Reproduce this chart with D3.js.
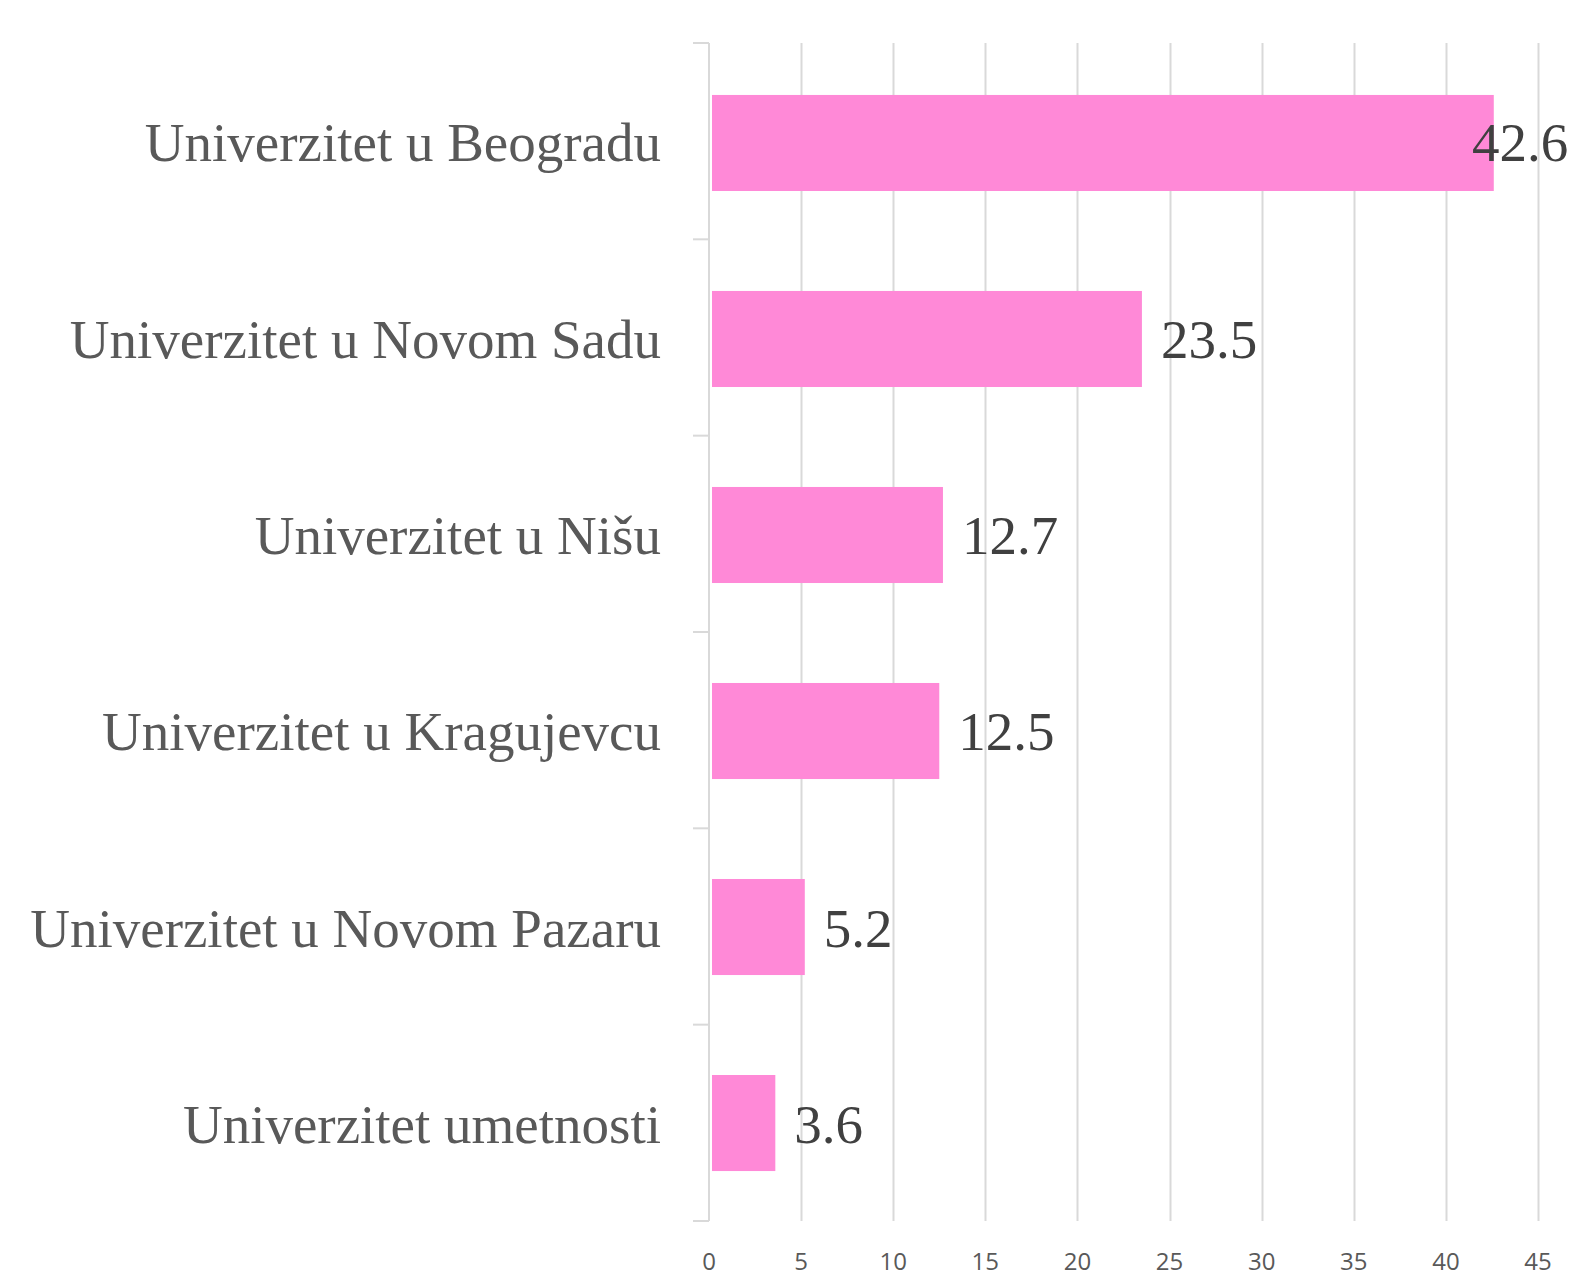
<!DOCTYPE html>
<html><head><meta charset="utf-8">
<script src="https://cdn.jsdelivr.net/npm/d3@7"></script>
<style>body{margin:0;background:#fff}svg{display:block}</style>
</head><body>
<script>
const categories = ["Univerzitet u Beogradu","Univerzitet u Novom Sadu","Univerzitet u Nišu","Univerzitet u Kragujevcu","Univerzitet u Novom Pazaru","Univerzitet umetnosti"];
const values = [42.6, 23.5, 12.7, 12.5, 5.2, 3.6];
const xTicks = [0,5,10,15,20,25,30,35,40,45];

const W = 1571, H = 1280;
const m = {left: 709, right: 33, top: 43, bottom: 59};
const svg = d3.select("body").append("svg").attr("width", W).attr("height", H);

const x = d3.scaleLinear().domain([0,45]).range([m.left, W - m.right]);
const y = d3.scaleBand().domain(categories).range([m.top, H - m.bottom]).paddingInner(0.51).paddingOuter(0.26);
const band = d3.scaleBand().domain(categories).range([m.top, H - m.bottom]);

// gridlines
svg.append("g").selectAll("line").data(xTicks.filter(d => d > 0)).join("line")
  .attr("x1", d => Math.round(x(d)) + 0.5).attr("x2", d => Math.round(x(d)) + 0.5)
  .attr("y1", m.top).attr("y2", H - m.bottom)
  .attr("stroke", "#d9d9d9").attr("stroke-width", 2);

// bars
svg.append("g").selectAll("rect").data(values).join("rect")
  .attr("x", x(0) + 3).attr("y", (d,i) => y(categories[i]) + 1)
  .attr("width", d => x(d) - x(0) - 3).attr("height", y.bandwidth())
  .attr("fill", "#ff89d7");

// y axis line and category tick marks
const ya = svg.append("g");
ya.append("line").attr("x1", m.left).attr("x2", m.left).attr("y1", m.top).attr("y2", H - m.bottom)
  .attr("stroke", "#d9d9d9").attr("stroke-width", 2);
const bounds = categories.map(c => band(c)).concat([H - m.bottom]);
ya.selectAll("line.t").data(bounds).join("line").attr("class","t")
  .attr("x1", m.left - 16).attr("x2", m.left).attr("y1", d => d).attr("y2", d => d)
  .attr("stroke", "#d9d9d9").attr("stroke-width", 2);

// category labels
svg.append("g").selectAll("text").data(categories).join("text")
  .attr("x", 661).attr("y", c => band(c) + band.bandwidth()/2 + 1)
  .attr("dy", "0.35em").attr("text-anchor", "end")
  .attr("font-family", "'Liberation Serif', serif").attr("font-size", 55)
  .attr("fill", "#595959").text(c => c);

// value labels
svg.append("g").selectAll("text").data(values).join("text")
  .attr("x", d => Math.min(x(d) + 19, W - 99)).attr("y", (d,i) => band(categories[i]) + band.bandwidth()/2 + 1)
  .attr("dy", "0.35em")
  .attr("font-family", "'Liberation Serif', serif").attr("font-size", 55)
  .attr("fill", "#404040").text(d => d.toFixed(1));

// x tick labels
svg.append("g").selectAll("text").data(xTicks).join("text")
  .attr("x", d => x(d)).attr("y", 1262).attr("dy", "0.35em").attr("text-anchor", "middle")
  .attr("font-family", "'Open Sans', sans-serif").attr("font-size", 24)
  .attr("fill", "#595959").text(d => d);
</script>
</body></html>
